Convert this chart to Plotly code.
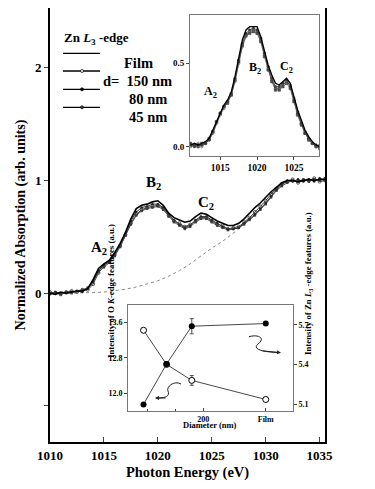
import plotly.graph_objects as go

# ---------------- data ----------------
energy = [1010.0, 1010.5, 1011.0, 1011.5, 1012.0, 1012.5, 1013.0, 1013.5,
          1014.0, 1014.5, 1015.0, 1015.5, 1016.0, 1016.5, 1017.0, 1017.5,
          1018.0, 1018.5, 1019.0, 1019.5, 1020.0, 1020.5, 1021.0, 1021.5,
          1022.0, 1022.5, 1023.0, 1023.5, 1024.0, 1024.5, 1025.0, 1025.5,
          1026.0, 1026.5, 1027.0, 1027.5, 1028.0, 1028.5, 1029.0, 1029.5,
          1030.0, 1030.5, 1031.0, 1031.5, 1032.0, 1032.5, 1033.0, 1033.5,
          1034.0, 1034.5, 1035.0, 1035.5]

film = [0.00, -0.01, 0.01, 0.00, 0.01, 0.02, 0.02, 0.04,
        0.12, 0.22, 0.26, 0.29, 0.36, 0.44, 0.54, 0.66,
        0.75, 0.78, 0.79, 0.81, 0.82, 0.78, 0.71, 0.67,
        0.65, 0.63, 0.64, 0.68, 0.71, 0.70, 0.67, 0.64,
        0.62, 0.60, 0.60, 0.62, 0.66, 0.71, 0.76, 0.80,
        0.85, 0.90, 0.94, 0.98, 1.00, 1.00, 0.99, 1.00,
        1.01, 1.00, 1.01, 1.01]

d150 = [0.01, 0.00, -0.01, 0.01, 0.02, 0.01, 0.03, 0.03,
        0.08, 0.18, 0.24, 0.28, 0.34, 0.42, 0.52, 0.62,
        0.70, 0.74, 0.76, 0.77, 0.78, 0.75, 0.69, 0.64,
        0.62, 0.59, 0.61, 0.64, 0.67, 0.67, 0.64, 0.61,
        0.60, 0.57, 0.58, 0.59, 0.63, 0.67, 0.72, 0.77,
        0.82, 0.88, 0.93, 0.97, 0.99, 1.01, 0.98, 1.00,
        1.00, 1.02, 0.99, 1.00]

d80 = [-0.01, 0.01, 0.00, 0.00, 0.01, 0.02, 0.01, 0.04,
       0.10, 0.20, 0.25, 0.28, 0.35, 0.43, 0.53, 0.64,
       0.72, 0.76, 0.77, 0.79, 0.79, 0.76, 0.70, 0.65,
       0.61, 0.58, 0.60, 0.65, 0.68, 0.68, 0.65, 0.62,
       0.59, 0.57, 0.57, 0.58, 0.62, 0.66, 0.70, 0.75,
       0.80, 0.86, 0.92, 0.96, 1.00, 0.99, 1.01, 0.99,
       1.01, 0.99, 1.02, 1.00]

d45 = [0.00, 0.01, -0.01, 0.01, 0.00, 0.02, 0.03, 0.05,
       0.11, 0.19, 0.23, 0.27, 0.33, 0.41, 0.51, 0.61,
       0.69, 0.73, 0.75, 0.76, 0.77, 0.74, 0.68, 0.63,
       0.60, 0.57, 0.59, 0.63, 0.66, 0.66, 0.63, 0.60,
       0.58, 0.56, 0.57, 0.58, 0.61, 0.65, 0.69, 0.74,
       0.79, 0.85, 0.91, 0.95, 0.98, 1.00, 0.99, 1.01,
       0.99, 1.01, 1.00, 1.02]

bg_energy = [1010, 1011, 1012, 1013, 1014, 1015, 1016, 1017, 1018, 1019,
             1020, 1021, 1022, 1023, 1024, 1025, 1026, 1027, 1027.5]
background = [0.0, 0.0, 0.0, 0.0, 0.005, 0.01, 0.02, 0.035, 0.055, 0.08,
              0.11, 0.15, 0.20, 0.26, 0.33, 0.40, 0.46, 0.53, 0.57]

inset_energy = [1011.0, 1011.5, 1012.0, 1012.5, 1013.0, 1013.5, 1014.0, 1014.5,
                1015.0, 1015.5, 1016.0, 1016.5, 1017.0, 1017.5, 1018.0, 1018.5,
                1019.0, 1019.5, 1020.0, 1020.5, 1021.0, 1021.5, 1022.0, 1022.5,
                1023.0, 1023.5, 1024.0, 1024.5, 1025.0, 1025.5, 1026.0, 1026.5,
                1027.0, 1027.5, 1028.0, 1028.5]

inset_film = [0.01, 0.02, 0.01, 0.02, 0.03, 0.05, 0.10, 0.16,
              0.21, 0.25, 0.28, 0.33, 0.42, 0.54, 0.64, 0.70,
              0.72, 0.72, 0.72, 0.66, 0.57, 0.49, 0.43, 0.38,
              0.37, 0.39, 0.41, 0.38, 0.30, 0.22, 0.16, 0.10,
              0.06, 0.03, 0.01, 0.00]
inset_150 = [0.00, 0.01, 0.02, 0.00, 0.02, 0.04, 0.08, 0.14,
             0.19, 0.23, 0.27, 0.31, 0.39, 0.50, 0.60, 0.66,
             0.69, 0.70, 0.69, 0.64, 0.55, 0.47, 0.40, 0.35,
             0.35, 0.37, 0.39, 0.37, 0.29, 0.21, 0.14, 0.09,
             0.05, 0.02, 0.00, 0.01]
inset_80 = [0.02, 0.00, 0.01, 0.01, 0.02, 0.04, 0.09, 0.15,
            0.20, 0.24, 0.27, 0.32, 0.41, 0.52, 0.62, 0.68,
            0.70, 0.71, 0.70, 0.65, 0.56, 0.48, 0.41, 0.36,
            0.36, 0.38, 0.40, 0.36, 0.28, 0.20, 0.14, 0.08,
            0.05, 0.02, 0.01, 0.00]
inset_45 = [0.01, 0.01, 0.00, 0.02, 0.02, 0.05, 0.09, 0.15,
            0.20, 0.24, 0.26, 0.31, 0.40, 0.51, 0.61, 0.67,
            0.68, 0.69, 0.68, 0.63, 0.54, 0.46, 0.39, 0.34,
            0.34, 0.36, 0.38, 0.35, 0.27, 0.19, 0.13, 0.08,
            0.04, 0.02, 0.00, -0.01]

diameter = [45, 80, 150, 950]          # 950 stands for "Film"
zn_intensity = [5.10, 5.405, 5.69, 5.71]
zn_err = [0, 0, 0.057, 0]
o_intensity = [13.42, 12.65, 12.29, 11.86]
o_err = [0, 0, 0.11, 0]

main_xticks = [1010, 1015, 1020, 1025, 1030, 1035]
main_yticks = [-1, 0, 1, 2]
main_yticktext = ["", "0", "1", "2"]
inset_xticks = [1015, 1020, 1025]
inset_yticks = [0.0, 0.5]
inset_yticktext = ["0.0", "0.5"]
diam_ticks = [200, 950]
diam_ticktext = ["200", "Film"]
o_ticks = [12.0, 12.8, 13.6]
zn_ticks = [5.1, 5.4, 5.7]

# ---------------- figure ----------------
FONT = "Times New Roman, Liberation Serif, Times, serif"
OFF = 8                      # page body margin
W, H = 367, 481
ML, MR, MT, MB = 42, 50, 0, 47
PW, PH = W - ML - MR, H - MT - MB


def px(x):                   # page pixel -> paper
    return (x - OFF - ML) / PW


def py(y):
    return (H - MB - (y - OFF)) / PH


def F(size):
    return dict(family=FONT, size=size, color="black", weight="bold")


fig = go.Figure()

fig.add_trace(go.Scatter(x=bg_energy, y=background, mode="lines",
                         line=dict(color="#888888", width=1, dash="dot"),
                         showlegend=False, hoverinfo="skip"))
fig.add_trace(go.Scatter(x=energy, y=d45, mode="lines+markers",
                         line=dict(color="#555555", width=1),
                         marker=dict(symbol="square", size=2.5, color="#444444"),
                         showlegend=False))
fig.add_trace(go.Scatter(x=energy, y=d80, mode="lines+markers",
                         line=dict(color="#333333", width=1),
                         marker=dict(symbol="circle", size=2.5, color="#222222"),
                         showlegend=False))
fig.add_trace(go.Scatter(x=energy, y=d150, mode="lines+markers",
                         line=dict(color="#444444", width=1),
                         marker=dict(symbol="circle-open", size=3, color="#333333",
                                     line=dict(width=0.8)),
                         showlegend=False))
fig.add_trace(go.Scatter(x=energy, y=film, mode="lines",
                         line=dict(color="black", width=1.6),
                         showlegend=False))

for ys, col, sym in [(inset_45, "#555555", "square"), (inset_80, "#333333", "circle"),
                     (inset_150, "#444444", "circle-open")]:
    fig.add_trace(go.Scatter(x=inset_energy, y=ys, mode="lines+markers",
                             line=dict(color=col, width=0.8),
                             marker=dict(symbol=sym, size=2.5, color=col, line=dict(width=0.6)),
                             xaxis="x2", yaxis="y2", showlegend=False))
fig.add_trace(go.Scatter(x=inset_energy, y=inset_film, mode="lines",
                         line=dict(color="black", width=1.3),
                         xaxis="x2", yaxis="y2", showlegend=False))

fig.add_trace(go.Scatter(x=diameter, y=o_intensity, mode="lines+markers",
                         line=dict(color="#333333", width=0.9),
                         marker=dict(symbol="circle", size=6, color="white",
                                     line=dict(color="black", width=1)),
                         error_y=dict(type="data", array=o_err, color="#444444",
                                      thickness=0.9, width=2),
                         xaxis="x3", yaxis="y3", showlegend=False))
fig.add_trace(go.Scatter(x=diameter, y=zn_intensity, mode="lines+markers",
                         line=dict(color="#333333", width=0.9),
                         marker=dict(symbol="circle", size=6, color="black"),
                         error_y=dict(type="data", array=zn_err, color="#444444",
                                      thickness=0.9, width=2),
                         xaxis="x3", yaxis="y4", showlegend=False))

fig.update_layout(
    width=W, height=H,
    margin=dict(l=ML, r=MR, t=MT, b=MB),
    paper_bgcolor="white", plot_bgcolor="white",
    font=dict(family=FONT, color="black"),
    showlegend=False,
    xaxis=dict(range=[1010, 1035.5], tickvals=main_xticks, ticks="inside", ticklen=5,
               tickwidth=1.2, showline=True, mirror=True, linewidth=2, linecolor="black",
               showgrid=False, zeroline=False, tickfont=F(13), automargin=False,
               title=dict(text="Photon Energy (eV)", standoff=5, font=F(14.5))),
    yaxis=dict(range=[-1.32, 2.53], tickvals=main_yticks, ticktext=main_yticktext,
               ticks="outside", ticklen=4, tickwidth=1.2, showline=True, mirror=True,
               linewidth=2, linecolor="black", showgrid=False, zeroline=False,
               tickfont=F(13), automargin=False,
               title=dict(text="Normalized Absorption (arb. units)", standoff=6, font=F(14))),
    xaxis2=dict(domain=[px(190), px(319)], anchor="y2", range=[1010.9, 1028.4],
                tickvals=inset_xticks, ticks="outside", ticklen=3, showline=True,
                mirror=True, linewidth=1, linecolor="#777777", showgrid=False,
                zeroline=False, tickfont=F(9.5), automargin=False),
    yaxis2=dict(domain=[py(156), py(15)], anchor="x2", range=[-0.056, 0.79],
                tickvals=inset_yticks, ticktext=inset_yticktext, ticks="outside",
                ticklen=3, showline=True, mirror=True, linewidth=1, linecolor="#777777",
                showgrid=False, zeroline=False, tickfont=F(9), automargin=False),
    xaxis3=dict(domain=[px(128), px(293)], anchor="y3", type="log",
                range=[1.485, 3.273], tickvals=diam_ticks, ticktext=diam_ticktext,
                ticks="inside", ticklen=3, showline=True, mirror=True, linewidth=1,
                linecolor="#777777", showgrid=False, zeroline=False, tickfont=F(8),
                automargin=False,
                minor=dict(tickvals=[50, 100], ticks="inside", ticklen=2)),
    yaxis3=dict(domain=[py(411), py(305)], anchor="x3", range=[11.60, 13.99],
                tickvals=o_ticks, tickformat=".1f", ticks="outside", ticklen=3,
                showline=True, mirror=True, linewidth=1, linecolor="#777777",
                showgrid=False, zeroline=False, tickfont=F(8), automargin=False),
    yaxis4=dict(overlaying="y3", anchor="x3", side="right", range=[5.05, 5.85],
                tickvals=zn_ticks, tickformat=".1f", ticks="outside", ticklen=3,
                showline=False, showgrid=False, zeroline=False, tickfont=F(8),
                automargin=False),
)

ann = []
ann.append(dict(x=1014.55, y=0.40, xref="x", yref="y", text="A<sub>2</sub>", showarrow=False, font=F(15)))
ann.append(dict(x=1019.6, y=0.98, xref="x", yref="y", text="B<sub>2</sub>", showarrow=False, font=F(15)))
ann.append(dict(x=1024.5, y=0.80, xref="x", yref="y", text="C<sub>2</sub>", showarrow=False, font=F(15)))
ann.append(dict(x=1013.7, y=0.33, xref="x2", yref="y2", text="A<sub>2</sub>", showarrow=False, font=F(12)))
ann.append(dict(x=1019.7, y=0.47, xref="x2", yref="y2", text="B<sub>2</sub>", showarrow=False, font=F(12)))
ann.append(dict(x=1024.0, y=0.48, xref="x2", yref="y2", text="C<sub>2</sub>", showarrow=False, font=F(12)))
ann.append(dict(x=px(62), y=py(27.7), xref="paper", yref="paper", xanchor="left",
                text="Zn <i>L</i><sub>3</sub> -edge", showarrow=False, font=F(13)))
legend_rows = [(53.3, "Film", 122), (71.0, "d=  150 nm", 101.0),
               (89.3, "80 nm", 126.7), (107.3, "45 nm", 126.7)]
for yy, txt, xl in legend_rows:
    ann.append(dict(x=px(xl), y=py(yy), xref="paper", yref="paper", xanchor="left",
                    text=txt, showarrow=False, font=F(14.5)))
ann.append(dict(x=px(104), y=py(360), xref="paper", yref="paper", textangle=-90,
                text="Intensity of O <i>K</i>-edge features (a.u.)", showarrow=False,
                font=F(8.8)))
ann.append(dict(x=px(316), y=py(357), xref="paper", yref="paper", textangle=-90,
                text="Intensity of Zn <i>L</i><sub>3</sub> -edge features (a.u.)", showarrow=False,
                font=F(8.8)))
ann.append(dict(x=px(210), y=py(432), xref="paper", yref="paper",
                text="Diameter (nm)", showarrow=False, font=F(8.5)))
ann.append(dict(x=px(155), y=py(398), xref="paper", yref="paper", ax=12, ay=0,
                text="", showarrow=True, arrowhead=2, arrowsize=0.8, arrowwidth=1,
                arrowcolor="#222222"))
ann.append(dict(x=px(281), y=py(352.7), xref="paper", yref="paper", ax=-20, ay=-2,
                text="", showarrow=True, arrowhead=2, arrowsize=0.8, arrowwidth=1,
                arrowcolor="#222222"))
fig.update_layout(annotations=ann)

shapes = []
for yy, _, _ in legend_rows:
    shapes.append(dict(type="line", xref="paper", yref="paper", x0=px(63), x1=px(100),
                       y0=py(yy), y1=py(yy), line=dict(color="black", width=1.3)))
for yy, fill in [(71.0, "white"), (89.3, "black"), (107.3, "#444444")]:
    shapes.append(dict(type="circle", xref="paper", yref="paper",
                       x0=px(80.5), x1=px(83.5), y0=py(yy + 1.5), y1=py(yy - 1.5),
                       fillcolor=fill, line=dict(color="black", width=0.7)))


def P(x, y):
    return f"{px(x):.4f},{py(y):.4f}"


shapes.append(dict(type="path", xref="paper", yref="paper",
                   path=f"M {P(181,384)} C {P(174,380)} {P(166,387)} {P(168,391)} "
                        f"C {P(170,396)} {P(166,398)} {P(158,398)}",
                   line=dict(color="#222222", width=1)))
shapes.append(dict(type="path", xref="paper", yref="paper",
                   path=f"M {P(249,336.7)} C {P(258,334)} {P(266,338)} {P(258,344)} "
                        f"C {P(252,349)} {P(262,352)} {P(278,352.5)}",
                   line=dict(color="#222222", width=1)))
fig.update_layout(shapes=shapes)

fig.write_html("out.html")
